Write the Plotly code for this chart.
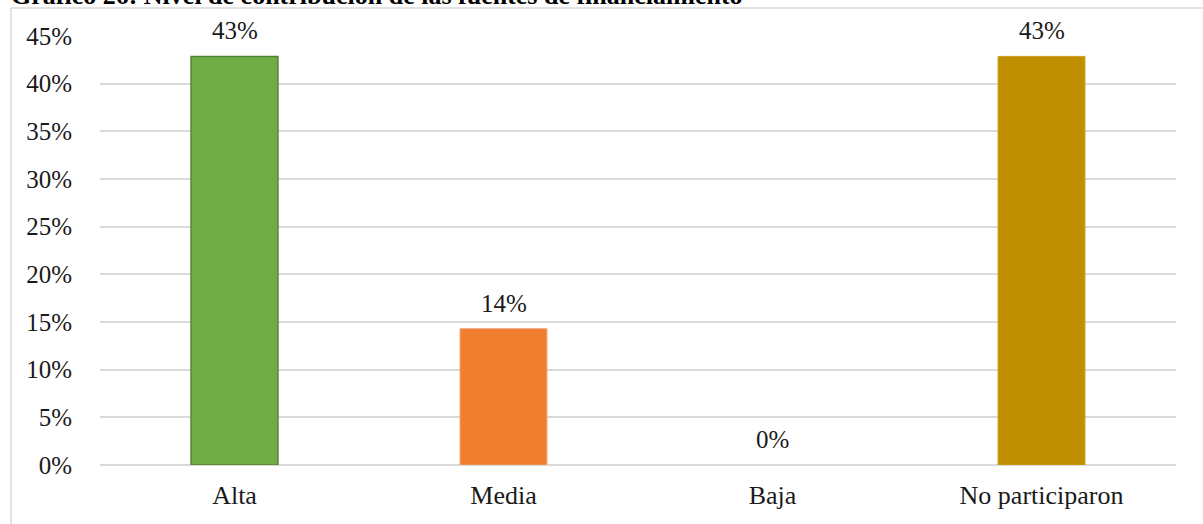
import plotly.graph_objects as go

categories = ["Alta", "Media", "Baja", "No participaron"]
values = [0.4286, 0.1429, 0.0, 0.4286]
labels = ["43%", "14%", "0%", "43%"]
bar_colors = ["#70AD47", "#EF7E2F", "#A5A5A5", "#BF8F00"]
line_colors = ["#548235", "#F4A070", "#A5A5A5", "#C9A020"]
line_widths = [1.5, 1, 0, 1]
y_ticks = [0, 0.05, 0.10, 0.15, 0.20, 0.25, 0.30, 0.35, 0.40, 0.45]
y_tick_text = ["0%", "5%", "10%", "15%", "20%", "25%", "30%", "35%", "40%", "45%"]

FONT = "Liberation Serif, Times New Roman, serif"
TEXT_COLOR = "#1a1a1a"

fig = go.Figure()
fig.add_trace(go.Bar(
    x=categories,
    y=values,
    marker=dict(color=bar_colors, line=dict(color=line_colors, width=line_widths)),
    width=0.323,
    hoverinfo="skip",
))

# value labels above each bar
for cat, val, lab in zip(categories, values, labels):
    fig.add_annotation(
        x=cat, y=val, text=lab, showarrow=False,
        xref="x", yref="y", yanchor="bottom", yshift=10,
        font=dict(family=FONT, size=25, color=TEXT_COLOR),
    )

# chart caption along the top edge
fig.add_annotation(
    x=-0.085, y=1.057, xref="paper", yref="paper",
    xanchor="left", yanchor="bottom", showarrow=False,
    text="<b>Gráfico 26: Nivel de contribución de las fuentes de financiamiento</b>",
    font=dict(family=FONT, size=26, color="#000000"),
)

# outer frame (top and left edges)
fig.add_shape(type="line", xref="paper", yref="paper",
              x0=-0.0827, x1=1.1, y0=1.0652, y1=1.0652,
              line=dict(color="#D9D9D9", width=1.5))
fig.add_shape(type="line", xref="paper", yref="paper",
              x0=-0.0827, x1=-0.0827, y0=1.0652, y1=-0.2,
              line=dict(color="#D9D9D9", width=1.5))

fig.update_layout(
    width=1203, height=524,
    margin=dict(l=100, r=27, t=36, b=58.5),
    paper_bgcolor="white", plot_bgcolor="white",
    showlegend=False,
    font=dict(family=FONT, size=25, color=TEXT_COLOR),
    xaxis=dict(
        showgrid=False, showline=False, ticks="",
        tickfont=dict(family=FONT, size=26, color=TEXT_COLOR),
        ticklabelstandoff=12,
    ),
    yaxis=dict(
        range=[0, 0.45],
        tickvals=y_ticks, ticktext=y_tick_text,
        showgrid=True, gridcolor="#D9D9D9", gridwidth=1.5,
        zeroline=True, zerolinecolor="#D9D9D9", zerolinewidth=1.5,
        showline=False, ticks="",
        tickfont=dict(family=FONT, size=25, color=TEXT_COLOR),
        ticklabelstandoff=27,
    ),
)

fig.write_html("out.html")
